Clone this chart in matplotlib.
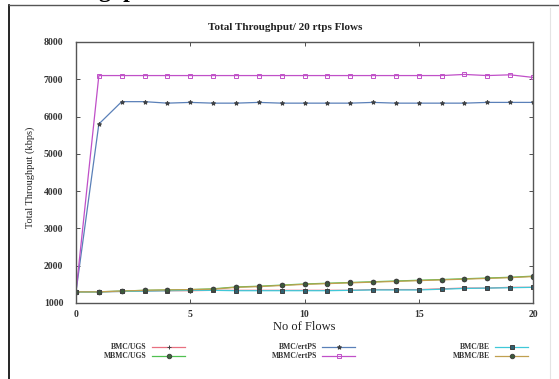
import numpy as np
import matplotlib
matplotlib.use('Agg')
from matplotlib import pyplot as plt
from matplotlib.lines import Line2D

flows = np.arange(0, 21)

# throughput in kbps for each scheme / service class
bmc_ugs = [1300, 1300, 1310, 1320, 1330, 1330, 1340, 1340, 1340, 1340, 1340,
           1340, 1340, 1360, 1360, 1360, 1380, 1400, 1400, 1420, 1420]
mbmc_ugs = [1300, 1300, 1320, 1340, 1350, 1360, 1380, 1430, 1450, 1480, 1510,
            1530, 1550, 1570, 1590, 1610, 1630, 1650, 1670, 1690, 1720]
bmc_ertps = [1300, 5800, 6400, 6400, 6360, 6380, 6360, 6360, 6380, 6360, 6360,
             6360, 6360, 6380, 6360, 6360, 6360, 6360, 6380, 6380, 6380]
mbmc_ertps = [1300, 7100, 7100, 7100, 7100, 7100, 7100, 7100, 7100, 7100, 7100,
              7100, 7100, 7100, 7100, 7100, 7100, 7130, 7100, 7120, 7050]
bmc_be = [1300, 1300, 1310, 1320, 1330, 1340, 1340, 1330, 1330, 1330, 1330,
          1330, 1340, 1350, 1350, 1350, 1370, 1390, 1400, 1410, 1420]
mbmc_be = [1300, 1300, 1320, 1340, 1350, 1360, 1370, 1420, 1440, 1470, 1500,
           1520, 1540, 1560, 1580, 1600, 1620, 1640, 1660, 1680, 1710]

labels = ['BMC/UGS', 'MBMC/UGS', 'BMC/ertPS', 'MBMC/ertPS', 'BMC/BE', 'MBMC/BE']
series = [bmc_ugs, mbmc_ugs, bmc_ertps, mbmc_ertps, bmc_be, mbmc_be]
colors = ['#e87080', '#50c050', '#5a80b8', '#c050c8', '#40c8d8', '#c0a050']
markers = ['+', 'o', '*', 's', 's', 'o']
mfc = ['#e87080', '#3a6a3a', '#304860', 'none', '#306070', '#3a5a3a']

W, H = 559, 379
fig = plt.figure(figsize=(W / 100, H / 100), dpi=100)
ax = fig.add_axes([76 / W, 1 - 303 / H, (533 - 76) / W, (303 - 42) / H])

for vals, lab, c, m, fc in zip(series, labels, colors, markers, mfc):
    ax.plot(flows, vals, color=c, lw=0.9, marker=m, ms=3.2,
            mfc=fc, mec='#404040' if fc != 'none' else c, mew=0.7, label=lab)

ax.set_xlim(0, 20)
ax.set_ylim(1000, 8000)
ax.set_xticks([0, 5, 10, 15, 20])
ax.set_yticks(range(1000, 8001, 1000))
ax.tick_params(direction='in', top=True, right=True, length=3, width=0.6,
               labelsize=7, colors='#333333')
ax.tick_params(axis='y', pad=9)
ax.tick_params(axis='x', pad=5)
for t in ax.get_xticklabels() + ax.get_yticklabels():
    t.set_family('Liberation Serif')
    t.set_weight('bold')
for s in ax.spines.values():
    s.set_color('#555555')
    s.set_linewidth(1.0)

fig.text(285 / W, 1 - 28 / H, 'Total Throughput/ 20 rtps Flows', ha='center',
         va='center', family='Liberation Serif', weight='bold', fontsize=8,
         color='#222222')
fig.text(304 / W, 1 - 327 / H, 'No of Flows', ha='center', va='center',
         family='Liberation Serif', fontsize=9, color='#222222')
fig.text(30 / W, 1 - 177 / H, 'Total Throughput (kbps)', ha='center',
         va='center', rotation=90, family='Liberation Serif', fontsize=7.5,
         color='#222222')

# legend in three columns, label on the left of the sample
col_ends = [147, 317, 490]
row_ys = [347, 356]
for i, (lab, c, m, fc) in enumerate(zip(labels, colors, markers, mfc)):
    xe = col_ends[i // 2]
    yy = 1 - row_ys[i % 2] / H
    fig.text(xe / W, yy, lab, ha='right', va='center', family='Liberation Serif',
             weight='bold', fontsize=5.5, color='#333333')
    fig.add_artist(Line2D([(xe + 5) / W, (xe + 38) / W], [yy, yy], color=c, lw=0.9))
    fig.add_artist(Line2D([(xe + 21.5) / W], [yy], marker=m, ms=3.2, mfc=fc,
                          mec='#404040' if fc != 'none' else c, mew=0.7,
                          color=c, lw=0))

# surrounding page frame and clipped heading above it
fig.add_artist(Line2D([9 / W, 9 / W], [0, 1 - 5 / H], color='black', lw=1.2))
fig.add_artist(Line2D([9 / W, 1], [1 - 5 / H, 1 - 5 / H], color='#555555', lw=1.0))
fig.add_artist(Line2D([550 / W, 550 / W], [0, 1 - 8 / H], color='#e4e4e4', lw=0.8))
fig.text(128 / W, 1 + 3.5 / H, 'ghput', ha='center', va='baseline',
         family='Liberation Serif', weight='bold', fontsize=17, color='black')

fig.savefig('out.png', dpi=100)
